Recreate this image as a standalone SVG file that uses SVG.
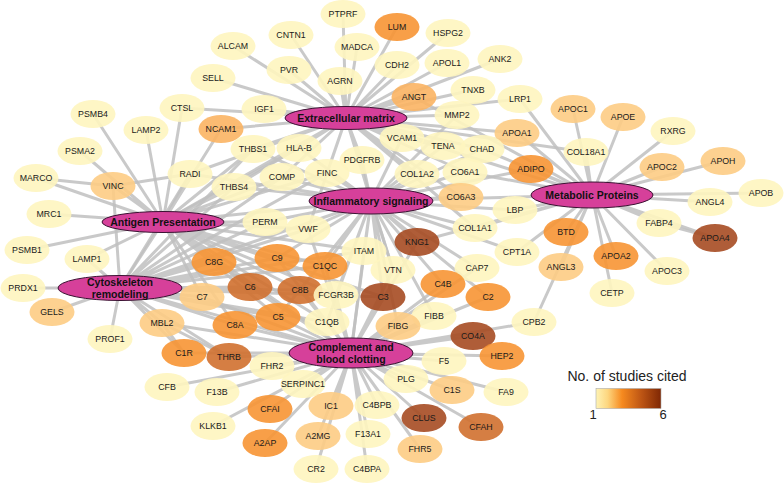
<svg xmlns="http://www.w3.org/2000/svg" width="784" height="483" viewBox="0 0 784 483">
<style>
.e{fill:none;stroke:#c0c0c0;stroke-width:3;stroke-linecap:round;stroke-opacity:0.85}
.n ellipse{fill-opacity:0.9}
.n text{font-family:"Liberation Sans",Arial,sans-serif;font-size:8.8px;fill:#1a1a1a;text-anchor:middle}
.l1 ellipse{fill:#fef5bf}
.l2 ellipse{fill:#fdcc84}
.l3 ellipse{fill:#fbb463}
.l4 ellipse{fill:#f79534}
.l5 ellipse{fill:#d0702f}
.l6 ellipse{fill:#a64b22}
.h ellipse{fill:#d6409a;stroke:#3a1232;stroke-width:1}
.h text{font-family:"Liberation Sans",Arial,sans-serif;font-size:10.5px;font-weight:bold;fill:#111;text-anchor:middle}
.lg{font-family:"Liberation Sans",Arial,sans-serif;fill:#222}
</style>
<defs>
<linearGradient id="grad" x1="0" y1="0" x2="1" y2="0">
<stop offset="0" stop-color="#fef3b5"/>
<stop offset="0.18" stop-color="#fdd67f"/>
<stop offset="0.4" stop-color="#f68a1f"/>
<stop offset="0.7" stop-color="#bd5514"/>
<stop offset="1" stop-color="#7f2704"/>
</linearGradient>
</defs>
<rect width="784" height="483" fill="#fff"/>
<g id="connectors">
<path class="e" d="M346 118L233 46M346 118L213 78M346 118L182 108M346 118L264 109M346 118L291 35M346 118L289 70M346 118L340 81M346 118L357 47M346 118L343 14M346 118L397 27M346 118L397 65M346 118L448 33M346 118L447 63M346 118L500 59M346 118L414 97M346 118L473 90M346 118L520 99M346 118L457 115M346 118L517 133M346 118L402 138M346 118L443 146M346 118L482 149M346 118L299 148M346 118L362 160M346 118L253 149M346 118L234 187M346 118L327 173M346 118L282 177M346 118L221 129M346 118L465 172M346 118L417 174M346 118L475 228M346 118L308 229M346 118L393 270M346 118L190 174M346 118L461 197M346 118L586 152M346 118L371 201M346 118L163 222M346 118L592 195"/>
<path class="e" d="M163 222L93 114M163 222L146 130M163 222L182 108M163 222L80 151M163 222L36 178M163 222L49 214M163 222L27 250M163 222L87 259M163 222L113 186M163 222L221 129M163 222L190 174M163 222L253 149M163 222L234 187M163 222L299 148M163 222L282 177M163 222L327 173M163 222L265 222M163 222L308 229M163 222L364 251M163 222L214 262M163 222L277 258M163 222L325 266M163 222L250 287M163 222L300 290M163 222L202 297M163 222L278 317M163 222L383 297M163 222L327 322M163 222L336 295M163 222L235 325M163 222L371 201M163 222L351 353M163 222L120 288"/>
<path class="e" d="M120 288L23 288M120 288L52 312M120 288L110 339M120 288L113 186M120 288L190 174M120 288L87 259M120 288L253 149M120 288L234 187M120 288L282 177M120 288L327 173M120 288L265 222M120 288L308 229M120 288L364 251M120 288L162 323M120 288L202 297M120 288L214 262M120 288L250 287M120 288L277 258M120 288L325 266M120 288L300 290M120 288L383 297M120 288L229 357M120 288L184 353M120 288L235 325M120 288L278 317M120 288L327 322M120 288L351 353M120 288L371 201"/>
<path class="e" d="M371 201L265 222M371 201L308 229M371 201L364 251M371 201L417 242M371 201L393 270M371 201L475 228M371 201L461 197M371 201L515 210M371 201L417 174M371 201L465 172M371 201L327 173M371 201L282 177M371 201L362 160M371 201L402 138M371 201L443 146M371 201L299 148M371 201L253 149M371 201L234 187M371 201L383 297M371 201L443 284M371 201L488 297M371 201L477 268M371 201L336 295M371 201L325 266M371 201L277 258M371 201L300 290M371 201L434 316M371 201L398 326M371 201L517 252M371 201L531 169M371 201L457 115M371 201L278 317M371 201L327 322M371 201L190 174M371 201L482 149M371 201L351 353M371 201L592 195"/>
<path class="e" d="M592 195L573 109M592 195L623 117M592 195L673 131M592 195L586 152M592 195L662 167M592 195L723 161M592 195L710 202M592 195L761 193M592 195L659 223M592 195L715 238M592 195L566 232M592 195L616 256M592 195L561 267M592 195L667 271M592 195L612 293M592 195L534 322M592 195L517 252M592 195L515 210M592 195L531 169M592 195L517 133M592 195L520 99M592 195L482 149M592 195L465 172M592 195L414 97M592 195L475 228M592 195L417 242"/>
<path class="e" d="M351 353L214 262M351 353L277 258M351 353L325 266M351 353L250 287M351 353L300 290M351 353L202 297M351 353L235 325M351 353L278 317M351 353L327 322M351 353L336 295M351 353L383 297M351 353L443 284M351 353L488 297M351 353L434 316M351 353L398 326M351 353L473 336M351 353L502 356M351 353L444 361M351 353L272 366M351 353L303 384M351 353L406 379M351 353L452 390M351 353L506 392M351 353L331 406M351 353L377 405M351 353L424 418M351 353L481 427M351 353L318 436M351 353L368 434M351 353L420 449M351 353L316 469M351 353L367 469M351 353L167 387M351 353L217 392M351 353L213 426M351 353L270 409M351 353L265 443M351 353L229 357M351 353L184 353M351 353L162 323M351 353L534 322M351 353L417 242M351 353L393 270M351 353L308 229M351 353L364 251M351 353L477 268"/>
<path class="e" d="M162 323L184 353M162 323L229 357M113 186L190 174M36 178L113 186M659 223L715 238"/>
</g>
<g id="nodes">
<g id="n-ALCAM" class="n l1"><ellipse cx="233" cy="46" rx="22.5" ry="14"/><text x="233" y="49">ALCAM</text></g>
<g id="n-SELL" class="n l1"><ellipse cx="213" cy="78" rx="22.5" ry="14"/><text x="213" y="81">SELL</text></g>
<g id="n-CTSL" class="n l1"><ellipse cx="182" cy="108" rx="22.5" ry="14"/><text x="182" y="111">CTSL</text></g>
<g id="n-IGF1" class="n l1"><ellipse cx="264" cy="109" rx="22.5" ry="14"/><text x="264" y="112">IGF1</text></g>
<g id="n-PSMB4" class="n l1"><ellipse cx="93" cy="114" rx="22.5" ry="14"/><text x="93" y="117">PSMB4</text></g>
<g id="n-LAMP2" class="n l1"><ellipse cx="146" cy="130" rx="22.5" ry="14"/><text x="146" y="133">LAMP2</text></g>
<g id="n-NCAM1" class="n l3"><ellipse cx="221" cy="129" rx="22.5" ry="14"/><text x="221" y="132">NCAM1</text></g>
<g id="n-THBS1" class="n l1"><ellipse cx="253" cy="149" rx="22.5" ry="14"/><text x="253" y="152">THBS1</text></g>
<g id="n-PSMA2" class="n l1"><ellipse cx="80" cy="151" rx="22.5" ry="14"/><text x="80" y="154">PSMA2</text></g>
<g id="n-PTPRF" class="n l1"><ellipse cx="343" cy="14" rx="22.5" ry="14"/><text x="343" y="17">PTPRF</text></g>
<g id="n-LUM" class="n l4"><ellipse cx="397" cy="27" rx="22.5" ry="14"/><text x="397" y="30">LUM</text></g>
<g id="n-CNTN1" class="n l1"><ellipse cx="291" cy="35" rx="22.5" ry="14"/><text x="291" y="38">CNTN1</text></g>
<g id="n-HSPG2" class="n l1"><ellipse cx="448" cy="33" rx="22.5" ry="14"/><text x="448" y="36">HSPG2</text></g>
<g id="n-MADCA" class="n l1"><ellipse cx="357" cy="47" rx="22.5" ry="14"/><text x="357" y="50">MADCA</text></g>
<g id="n-CDH2" class="n l1"><ellipse cx="397" cy="65" rx="22.5" ry="14"/><text x="397" y="68">CDH2</text></g>
<g id="n-APOL1" class="n l1"><ellipse cx="447" cy="63" rx="22.5" ry="14"/><text x="447" y="66">APOL1</text></g>
<g id="n-ANK2" class="n l1"><ellipse cx="500" cy="59" rx="22.5" ry="14"/><text x="500" y="62">ANK2</text></g>
<g id="n-PVR" class="n l1"><ellipse cx="289" cy="70" rx="22.5" ry="14"/><text x="289" y="73">PVR</text></g>
<g id="n-AGRN" class="n l1"><ellipse cx="340" cy="81" rx="22.5" ry="14"/><text x="340" y="84">AGRN</text></g>
<g id="n-ANGT" class="n l3"><ellipse cx="414" cy="97" rx="22.5" ry="14"/><text x="414" y="100">ANGT</text></g>
<g id="n-TNXB" class="n l1"><ellipse cx="473" cy="90" rx="22.5" ry="14"/><text x="473" y="93">TNXB</text></g>
<g id="n-LRP1" class="n l1"><ellipse cx="520" cy="99" rx="22.5" ry="14"/><text x="520" y="102">LRP1</text></g>
<g id="n-MMP2" class="n l1"><ellipse cx="457" cy="115" rx="22.5" ry="14"/><text x="457" y="118">MMP2</text></g>
<g id="n-APOA1" class="n l2"><ellipse cx="517" cy="133" rx="22.5" ry="14"/><text x="517" y="136">APOA1</text></g>
<g id="n-VCAM1" class="n l1"><ellipse cx="402" cy="138" rx="22.5" ry="14"/><text x="402" y="141">VCAM1</text></g>
<g id="n-TENA" class="n l1"><ellipse cx="443" cy="146" rx="22.5" ry="14"/><text x="443" y="149">TENA</text></g>
<g id="n-CHAD" class="n l1"><ellipse cx="482" cy="149" rx="22.5" ry="14"/><text x="482" y="152">CHAD</text></g>
<g id="n-HLA-B" class="n l1"><ellipse cx="299" cy="148" rx="22.5" ry="14"/><text x="299" y="151">HLA-B</text></g>
<g id="n-PDGFRB" class="n l1"><ellipse cx="362" cy="160" rx="22.5" ry="14"/><text x="362" y="163">PDGFRB</text></g>
<g id="n-APOC1" class="n l2"><ellipse cx="573" cy="109" rx="22.5" ry="14"/><text x="573" y="112">APOC1</text></g>
<g id="n-APOE" class="n l2"><ellipse cx="623" cy="117" rx="22.5" ry="14"/><text x="623" y="120">APOE</text></g>
<g id="n-RXRG" class="n l1"><ellipse cx="673" cy="131" rx="22.5" ry="14"/><text x="673" y="134">RXRG</text></g>
<g id="n-COL18A1" class="n l1"><ellipse cx="586" cy="152" rx="22.5" ry="14"/><text x="586" y="155">COL18A1</text></g>
<g id="n-APOC2" class="n l2"><ellipse cx="662" cy="167" rx="22.5" ry="14"/><text x="662" y="170">APOC2</text></g>
<g id="n-APOH" class="n l2"><ellipse cx="723" cy="161" rx="22.5" ry="14"/><text x="723" y="164">APOH</text></g>
<g id="n-MARCO" class="n l1"><ellipse cx="36" cy="178" rx="22.5" ry="14"/><text x="36" y="181">MARCO</text></g>
<g id="n-VINC" class="n l2"><ellipse cx="113" cy="186" rx="22.5" ry="14"/><text x="113" y="189">VINC</text></g>
<g id="n-RADI" class="n l1"><ellipse cx="190" cy="174" rx="22.5" ry="14"/><text x="190" y="177">RADI</text></g>
<g id="n-THBS4" class="n l1"><ellipse cx="234" cy="187" rx="22.5" ry="14"/><text x="234" y="190">THBS4</text></g>
<g id="n-MRC1" class="n l1"><ellipse cx="49" cy="214" rx="22.5" ry="14"/><text x="49" y="217">MRC1</text></g>
<g id="n-PSMB1" class="n l1"><ellipse cx="27" cy="250" rx="22.5" ry="14"/><text x="27" y="253">PSMB1</text></g>
<g id="n-LAMP1" class="n l1"><ellipse cx="87" cy="259" rx="22.5" ry="14"/><text x="87" y="262">LAMP1</text></g>
<g id="n-PERM" class="n l1"><ellipse cx="265" cy="222" rx="22.5" ry="14"/><text x="265" y="225">PERM</text></g>
<g id="n-COMP" class="n l1"><ellipse cx="282" cy="177" rx="22.5" ry="14"/><text x="282" y="180">COMP</text></g>
<g id="n-FINC" class="n l1"><ellipse cx="327" cy="173" rx="22.5" ry="14"/><text x="327" y="176">FINC</text></g>
<g id="n-COL1A2" class="n l1"><ellipse cx="417" cy="174" rx="22.5" ry="14"/><text x="417" y="177">COL1A2</text></g>
<g id="n-CO6A1" class="n l1"><ellipse cx="465" cy="172" rx="22.5" ry="14"/><text x="465" y="175">CO6A1</text></g>
<g id="n-ADIPO" class="n l4"><ellipse cx="531" cy="169" rx="22.5" ry="14"/><text x="531" y="172">ADIPO</text></g>
<g id="n-CO6A3" class="n l2"><ellipse cx="461" cy="197" rx="22.5" ry="14"/><text x="461" y="200">CO6A3</text></g>
<g id="n-LBP" class="n l1"><ellipse cx="515" cy="210" rx="22.5" ry="14"/><text x="515" y="213">LBP</text></g>
<g id="n-VWF" class="n l1"><ellipse cx="308" cy="229" rx="22.5" ry="14"/><text x="308" y="232">VWF</text></g>
<g id="n-COL1A1" class="n l1"><ellipse cx="475" cy="228" rx="22.5" ry="14"/><text x="475" y="231">COL1A1</text></g>
<g id="n-KNG1" class="n l6"><ellipse cx="417" cy="242" rx="22.5" ry="14"/><text x="417" y="245">KNG1</text></g>
<g id="n-ITAM" class="n l1"><ellipse cx="364" cy="251" rx="22.5" ry="14"/><text x="364" y="254">ITAM</text></g>
<g id="n-CPT1A" class="n l1"><ellipse cx="517" cy="252" rx="22.5" ry="14"/><text x="517" y="255">CPT1A</text></g>
<g id="n-C8G" class="n l4"><ellipse cx="214" cy="262" rx="22.5" ry="14"/><text x="214" y="265">C8G</text></g>
<g id="n-C9" class="n l4"><ellipse cx="277" cy="258" rx="22.5" ry="14"/><text x="277" y="261">C9</text></g>
<g id="n-C1QC" class="n l4"><ellipse cx="325" cy="266" rx="22.5" ry="14"/><text x="325" y="269">C1QC</text></g>
<g id="n-VTN" class="n l1"><ellipse cx="393" cy="270" rx="22.5" ry="14"/><text x="393" y="273">VTN</text></g>
<g id="n-CAP7" class="n l1"><ellipse cx="477" cy="268" rx="22.5" ry="14"/><text x="477" y="271">CAP7</text></g>
<g id="n-C4B" class="n l4"><ellipse cx="443" cy="284" rx="22.5" ry="14"/><text x="443" y="287">C4B</text></g>
<g id="n-C6" class="n l5"><ellipse cx="250" cy="287" rx="22.5" ry="14"/><text x="250" y="290">C6</text></g>
<g id="n-C7" class="n l2"><ellipse cx="202" cy="297" rx="22.5" ry="14"/><text x="202" y="300">C7</text></g>
<g id="n-C8B" class="n l5"><ellipse cx="300" cy="290" rx="22.5" ry="14"/><text x="300" y="293">C8B</text></g>
<g id="n-FCGR3B" class="n l1"><ellipse cx="336" cy="295" rx="22.5" ry="14"/><text x="336" y="298">FCGR3B</text></g>
<g id="n-C3" class="n l6"><ellipse cx="383" cy="297" rx="22.5" ry="14"/><text x="383" y="300">C3</text></g>
<g id="n-C2" class="n l4"><ellipse cx="488" cy="297" rx="22.5" ry="14"/><text x="488" y="300">C2</text></g>
<g id="n-PRDX1" class="n l1"><ellipse cx="23" cy="288" rx="22.5" ry="14"/><text x="23" y="291">PRDX1</text></g>
<g id="n-GELS" class="n l2"><ellipse cx="52" cy="312" rx="22.5" ry="14"/><text x="52" y="315">GELS</text></g>
<g id="n-MBL2" class="n l2"><ellipse cx="162" cy="323" rx="22.5" ry="14"/><text x="162" y="326">MBL2</text></g>
<g id="n-C8A" class="n l4"><ellipse cx="235" cy="325" rx="22.5" ry="14"/><text x="235" y="328">C8A</text></g>
<g id="n-C5" class="n l4"><ellipse cx="278" cy="317" rx="22.5" ry="14"/><text x="278" y="320">C5</text></g>
<g id="n-C1QB" class="n l1"><ellipse cx="327" cy="322" rx="22.5" ry="14"/><text x="327" y="325">C1QB</text></g>
<g id="n-FIBB" class="n l1"><ellipse cx="434" cy="316" rx="22.5" ry="14"/><text x="434" y="319">FIBB</text></g>
<g id="n-FIBG" class="n l2"><ellipse cx="398" cy="326" rx="22.5" ry="14"/><text x="398" y="329">FIBG</text></g>
<g id="n-ANGL4" class="n l1"><ellipse cx="710" cy="202" rx="22.5" ry="14"/><text x="710" y="205">ANGL4</text></g>
<g id="n-APOB" class="n l1"><ellipse cx="761" cy="193" rx="22.5" ry="14"/><text x="761" y="196">APOB</text></g>
<g id="n-FABP4" class="n l1"><ellipse cx="659" cy="223" rx="22.5" ry="14"/><text x="659" y="226">FABP4</text></g>
<g id="n-APOA4" class="n l6"><ellipse cx="715" cy="238" rx="22.5" ry="14"/><text x="715" y="241">APOA4</text></g>
<g id="n-BTD" class="n l4"><ellipse cx="566" cy="232" rx="22.5" ry="14"/><text x="566" y="235">BTD</text></g>
<g id="n-APOA2" class="n l4"><ellipse cx="616" cy="256" rx="22.5" ry="14"/><text x="616" y="259">APOA2</text></g>
<g id="n-ANGL3" class="n l2"><ellipse cx="561" cy="267" rx="22.5" ry="14"/><text x="561" y="270">ANGL3</text></g>
<g id="n-APOC3" class="n l1"><ellipse cx="667" cy="271" rx="22.5" ry="14"/><text x="667" y="274">APOC3</text></g>
<g id="n-CETP" class="n l1"><ellipse cx="612" cy="293" rx="22.5" ry="14"/><text x="612" y="296">CETP</text></g>
<g id="n-CPB2" class="n l1"><ellipse cx="534" cy="322" rx="22.5" ry="14"/><text x="534" y="325">CPB2</text></g>
<g id="n-PROF1" class="n l1"><ellipse cx="110" cy="339" rx="22.5" ry="14"/><text x="110" y="342">PROF1</text></g>
<g id="n-C1R" class="n l4"><ellipse cx="184" cy="353" rx="22.5" ry="14"/><text x="184" y="356">C1R</text></g>
<g id="n-THRB" class="n l5"><ellipse cx="229" cy="357" rx="22.5" ry="14"/><text x="229" y="360">THRB</text></g>
<g id="n-CFB" class="n l1"><ellipse cx="167" cy="387" rx="22.5" ry="14"/><text x="167" y="390">CFB</text></g>
<g id="n-F13B" class="n l1"><ellipse cx="217" cy="392" rx="22.5" ry="14"/><text x="217" y="395">F13B</text></g>
<g id="n-KLKB1" class="n l1"><ellipse cx="213" cy="426" rx="22.5" ry="14"/><text x="213" y="429">KLKB1</text></g>
<g id="n-FHR2" class="n l1"><ellipse cx="272" cy="366" rx="22.5" ry="14"/><text x="272" y="369">FHR2</text></g>
<g id="n-CFAI" class="n l4"><ellipse cx="270" cy="409" rx="22.5" ry="14"/><text x="270" y="412">CFAI</text></g>
<g id="n-A2AP" class="n l4"><ellipse cx="265" cy="443" rx="22.5" ry="14"/><text x="265" y="446">A2AP</text></g>
<g id="n-CO4A" class="n l6"><ellipse cx="473" cy="336" rx="22.5" ry="14"/><text x="473" y="339">CO4A</text></g>
<g id="n-HEP2" class="n l4"><ellipse cx="502" cy="356" rx="22.5" ry="14"/><text x="502" y="359">HEP2</text></g>
<g id="n-F5" class="n l1"><ellipse cx="444" cy="361" rx="22.5" ry="14"/><text x="444" y="364">F5</text></g>
<g id="n-SERPINC1" class="n l1"><ellipse cx="303" cy="384" rx="22.5" ry="14"/><text x="303" y="387">SERPINC1</text></g>
<g id="n-PLG" class="n l1"><ellipse cx="406" cy="379" rx="22.5" ry="14"/><text x="406" y="382">PLG</text></g>
<g id="n-C1S" class="n l2"><ellipse cx="452" cy="390" rx="22.5" ry="14"/><text x="452" y="393">C1S</text></g>
<g id="n-FA9" class="n l1"><ellipse cx="506" cy="392" rx="22.5" ry="14"/><text x="506" y="395">FA9</text></g>
<g id="n-IC1" class="n l2"><ellipse cx="331" cy="406" rx="22.5" ry="14"/><text x="331" y="409">IC1</text></g>
<g id="n-C4BPB" class="n l1"><ellipse cx="377" cy="405" rx="22.5" ry="14"/><text x="377" y="408">C4BPB</text></g>
<g id="n-CLUS" class="n l6"><ellipse cx="424" cy="418" rx="22.5" ry="14"/><text x="424" y="421">CLUS</text></g>
<g id="n-CFAH" class="n l5"><ellipse cx="481" cy="427" rx="22.5" ry="14"/><text x="481" y="430">CFAH</text></g>
<g id="n-A2MG" class="n l2"><ellipse cx="318" cy="436" rx="22.5" ry="14"/><text x="318" y="439">A2MG</text></g>
<g id="n-F13A1" class="n l1"><ellipse cx="368" cy="434" rx="22.5" ry="14"/><text x="368" y="437">F13A1</text></g>
<g id="n-FHR5" class="n l2"><ellipse cx="420" cy="449" rx="22.5" ry="14"/><text x="420" y="452">FHR5</text></g>
<g id="n-CR2" class="n l1"><ellipse cx="316" cy="469" rx="22.5" ry="14"/><text x="316" y="472">CR2</text></g>
<g id="n-C4BPA" class="n l1"><ellipse cx="367" cy="469" rx="22.5" ry="14"/><text x="367" y="472">C4BPA</text></g>
</g>
<g id="hubs">
<g id="h-ECM" class="h"><ellipse cx="346" cy="118" rx="61" ry="11.5"/><text x="346" y="122">Extracellular matrix</text></g>
<g id="h-AP" class="h"><ellipse cx="163" cy="222" rx="61" ry="10.5"/><text x="163" y="226">Antigen Presentation</text></g>
<g id="h-CR" class="h"><ellipse cx="120" cy="288" rx="62" ry="12.5"/><text x="120" y="286">Cytoskeleton</text><text x="120" y="298">remodeling</text></g>
<g id="h-IS" class="h"><ellipse cx="371" cy="201" rx="62" ry="13"/><text x="371" y="205">Inflammatory signaling</text></g>
<g id="h-MP" class="h"><ellipse cx="592" cy="195" rx="61" ry="13"/><text x="592" y="199">Metabolic Proteins</text></g>
<g id="h-CB" class="h"><ellipse cx="351" cy="353" rx="62" ry="15"/><text x="351" y="351">Complement and</text><text x="351" y="363">blood clotting</text></g>
</g>
<g id="legend">
<text class="lg" x="627" y="381" font-size="14" text-anchor="middle">No. of studies cited</text>
<rect x="596" y="388.5" width="65" height="20" fill="url(#grad)" stroke="#aaa" stroke-width="0.6"/>
<text class="lg" x="593" y="419" font-size="13" text-anchor="middle">1</text>
<text class="lg" x="663" y="419" font-size="13" text-anchor="middle">6</text>
</g>
</svg>
